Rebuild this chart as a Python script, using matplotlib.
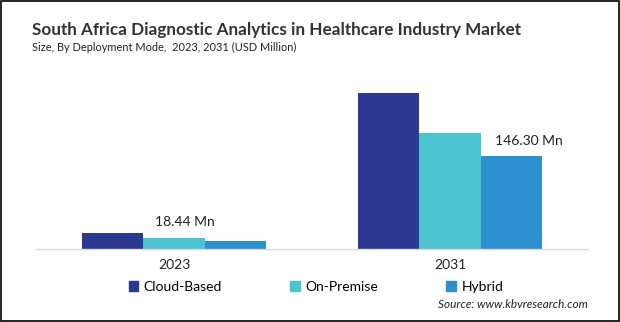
import matplotlib
matplotlib.use("Agg")
import matplotlib.pyplot as plt
from matplotlib.patches import Rectangle
import numpy as np

years = ["2023", "2031"]
series = ["Cloud-Based", "On-Premise", "Hybrid"]
cloud = [30.5, 241.0]
onprem = [22.9, 180.9]
hybrid = [18.44, 146.30]
colors = ["#2B3990", "#4DC3CF", "#2B8FD0"]
label_texts = ["18.44 Mn", "146.30 Mn"]

plt.rcParams['font.family'] = ['Lato', 'DejaVu Sans']

fig = plt.figure(figsize=(6.2, 3.22), dpi=100)
ax = fig.add_axes([36/620, 73/322, 552/620, 169/322])

x = np.arange(len(years))
w = 0.223
for i, (vals, c, name) in enumerate(zip([cloud, onprem, hybrid], colors, series)):
    ax.bar(x + (i - 1) * w, vals, width=w, color=c, label=name, zorder=2)

ymin = 6.4
ax.set_ylim(ymin, 260.6)
ax.set_xlim(-0.5, 1.5)
ax.set_yticks([])
ax.set_xticks(x)
ax.set_xticklabels(years, fontsize=10, color="#222222")
ax.tick_params(axis='x', length=0, pad=7)
for s in ["top", "right", "left"]:
    ax.spines[s].set_visible(False)
ax.spines["bottom"].set_color("#d9d9d9")
ax.spines["bottom"].set_linewidth(1.0)

# data labels
ax.text(x[0] + 0.038, 47, label_texts[0], ha="center", va="center", fontsize=10, color="#222222")
ax.text(x[1] + 0.285, 168.8, label_texts[1], ha="center", va="center", fontsize=10, color="#222222")

fig.text(32/620, 1 - 30/322, "South Africa Diagnostic Analytics in Healthcare Industry Market",
         fontsize=12.3, fontweight="bold", color="#333333", ha="left", va="center")
fig.text(32/620, 1 - 47/322, "Size, By Deployment Mode,  2023, 2031 (USD Million)",
         fontsize=7.9, color="#222222", ha="left", va="center")

handles = [Rectangle((0, 0), 1, 1, color=c) for c in colors]
fig.legend(handles, series, loc="center", bbox_to_anchor=(316/620, 1 - 287/322), ncol=3,
           frameon=False, fontsize=10, handlelength=0.7, handleheight=0.7,
           handletextpad=0.4, columnspacing=4.9)

fig.text(588/620, 1 - 304/322, "Source: www.kbvresearch.com", fontsize=8.5, style="italic",
         color="#222222", ha="right", va="center")

fig.patches.append(Rectangle((0.0015, 0.003), 0.997, 0.994, transform=fig.transFigure,
                             fill=False, edgecolor="black", linewidth=1.2))

fig.savefig("out.png", dpi=100)
